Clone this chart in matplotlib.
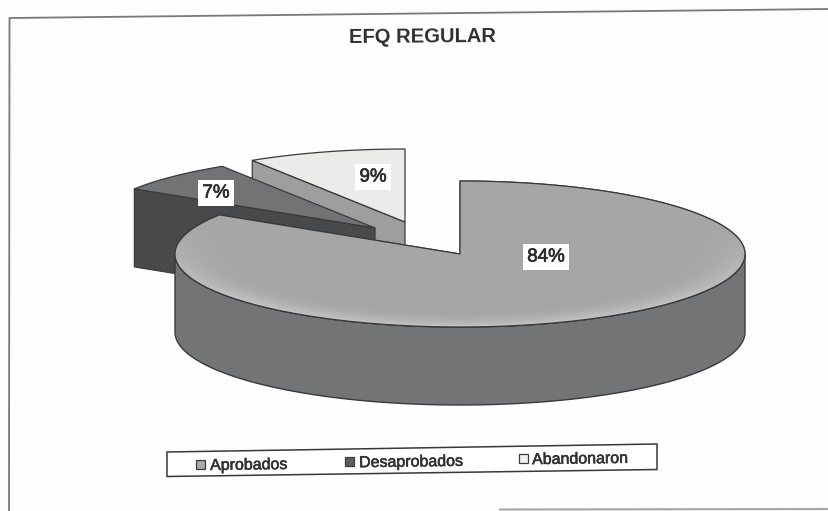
import numpy as np
import matplotlib
matplotlib.use("Agg")
import matplotlib.pyplot as plt
from matplotlib.patches import Polygon
import matplotlib.patheffects as pe

categories = ["Aprobados", "Desaprobados", "Abandonaron"]
values = [84, 7, 9]
labels = ["84%", "7%", "9%"]
title = "EFQ REGULAR"

plt.rcParams["font.family"] = ["Liberation Sans", "DejaVu Sans"]
W, H = 829, 511
fig = plt.figure(figsize=(W / 100, H / 100), dpi=100, facecolor="#fefefe")
ax = fig.add_axes([0, 0, 1, 1])
ax.set_xlim(0, W)
ax.set_ylim(H, 0)
ax.axis("off")

RX, RY, DEPTH = 285, 73, 78
apex = [(460, 254), (375, 228), (405, 222)]
top_col = ["#a4a5a5", "#727374", "#ebecea"]
face_col = ["#737475", "#48494b", "#9d9e9e"]
legend_col = ["#a9aaaa", "#5d5e60", "#f2f2f0"]
edge = "#3a3a3c"

# frame
ax.plot([9, 9.5, 829], [511, 18, 9], color="#77797a", lw=1.3, zorder=1)
ax.plot([500, 829], [509.5, 509], color="#a8a9a9", lw=1.6, zorder=1)

shares = np.array(values) / sum(values) * 360
starts = 90 - np.concatenate(([0], np.cumsum(shares)[:-1]))
ends = starts - shares


def rim(c, a0, a1, n=200, dy=0):
    t = np.radians(np.linspace(a0, a1, n))
    return np.column_stack((c[0] + RX * np.cos(t), c[1] + dy - RY * np.sin(t)))


# back to front: third, second, first slice
for i, z in ((2, 3), (1, 4), (0, 5)):
    c = apex[i]
    a0, a1 = starts[i], ends[i]
    top = np.vstack(([c], rim(c, a0, a1)))
    if i == 0:
        wall = np.vstack((rim(c, -180, 0), rim(c, 0, -180, dy=DEPTH)))
        ax.add_patch(Polygon(wall, closed=True, fc=face_col[i], ec=edge, lw=1.0, zorder=z))
    else:
        # the cut face that looks toward the viewer
        p = rim(c, a0, a0, n=1)[0]
        cq = np.array(c, float)
        face = np.array([p, cq, cq + [0, DEPTH], p + [0, DEPTH]])
        ax.add_patch(Polygon(face, closed=True, fc=face_col[i], ec=edge, lw=0.9, zorder=z))
    patch = Polygon(top, closed=True, fc=top_col[i], ec=edge, lw=0.9, zorder=z + 0.1)
    ax.add_patch(patch)
    if i == 0:
        xs, ys = np.meshgrid(np.arange(150, 770), np.arange(170, 340))
        r = np.hypot((xs - c[0]) / RX, (ys - c[1]) / RY)
        shade = 166 + 32 * np.clip((r - 0.78) / 0.22, 0, 1) ** 2 * np.clip((ys - c[1] + 25) / 70, 0, 1)
        img = ax.imshow(shade, cmap="gray", vmin=0, vmax=255,
                        extent=(150, 770, 340, 170), zorder=z + 0.2, aspect="auto",
                        interpolation="bilinear")
        img.set_clip_path(patch)
        ax.add_patch(Polygon(top, closed=True, fc="none", ec=edge, lw=0.9, zorder=z + 0.3))
ax.set_xlim(0, W)
ax.set_ylim(H, 0)

# value labels
label_pos = [(546, 257), (216, 193), (373, 177)]
stroke = [pe.withStroke(linewidth=0.5, foreground="#2c2c2e")]
for s, (x, y) in zip(labels, label_pos):
    t = ax.text(x, y, s, ha="center", va="center", fontsize=13.5, color="#2c2c2e", zorder=8,
                bbox=dict(fc="white", ec="none", boxstyle="square,pad=0.25"))
    t.set_path_effects(stroke)

ax.text(422, 37, title, ha="center", va="center", fontsize=14.5, fontweight="bold",
        color="#2e2e30", rotation=0.4, zorder=8)

# legend
ax.add_patch(Polygon([(167, 452), (657, 444), (657, 469.5), (167, 476.5)], closed=True,
                     fc="white", ec="#38383a", lw=1.1, zorder=6))
swatch_x = [201, 350, 524]
text_x = [210, 359, 532]
text_y = [465, 462, 459]
for k, name in enumerate(categories):
    ax.add_patch(Polygon([(swatch_x[k] - 4.5, text_y[k] - 5), (swatch_x[k] + 4.5, text_y[k] - 5),
                          (swatch_x[k] + 4.5, text_y[k] + 4), (swatch_x[k] - 4.5, text_y[k] + 4)],
                         closed=True, fc=legend_col[k], ec="#3c3c3e", lw=0.9, zorder=7))
    t = ax.text(text_x[k], text_y[k], name, ha="left", va="center", fontsize=11.5,
                color="#303032", rotation=0.8, zorder=8)
    t.set_path_effects([pe.withStroke(linewidth=0.4, foreground="#303032")])

fig.savefig("out.png", dpi=100, facecolor=fig.get_facecolor())
